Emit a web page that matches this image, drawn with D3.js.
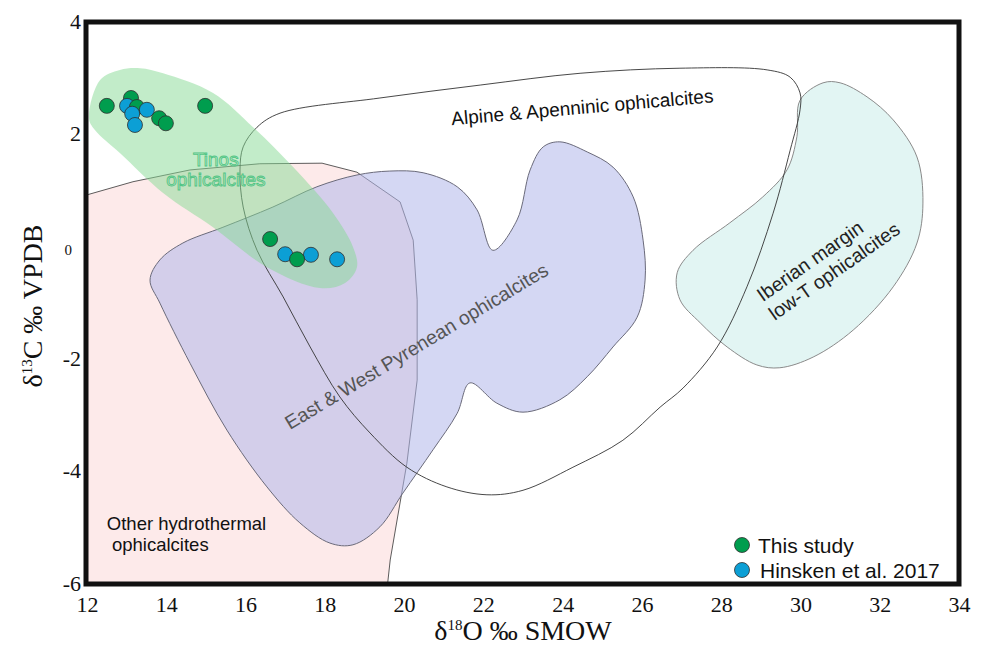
<!DOCTYPE html>
<html>
<head>
<meta charset="utf-8">
<script src="https://cdn.jsdelivr.net/npm/d3@7"></script>
<style>
  body { margin: 0; background: #fff; }
  .lbl { font-family: "Liberation Sans", Arial, sans-serif; }
</style>
</head>
<body>
<div id="chart"></div>
<script>
// points: [d18O ‰ SMOW, d13C ‰ VPDB]
const thisStudy = [[12.50, 2.49], [13.11, 2.63], [13.26, 2.47], [13.82, 2.27], [13.99, 2.18],
                   [14.98, 2.49], [16.62, 0.12], [17.30, -0.24]];
const hinsken2017 = [[13.01, 2.49], [13.14, 2.35], [13.21, 2.15], [13.51, 2.42],
                     [17.00, -0.15], [17.65, -0.16], [18.31, -0.24]];

// field outlines, same units
const tinosField = [[12.05, 2.27], [12.33, 2.95], [12.83, 3.13], [13.34, 3.16], [13.92, 3.07], [15.18, 2.72],
  [16.19, 2.11], [17.20, 1.40], [18.21, 0.58], [18.71, -0.02], [18.81, -0.38], [18.51, -0.66], [17.88, -0.75],
  [16.54, -0.38], [15.18, 0.33], [13.92, 0.94], [12.83, 1.65], [12.20, 2.06]];
const otherHydroField = [[11.82, 0.87], [13.16, 1.14], [14.60, 1.35], [16.36, 1.46], [17.93, 1.47], [18.81, 1.31],
  [19.90, 0.78], [20.23, 0.10], [20.33, -0.96], [20.33, -2.39], [20.07, -3.87], [19.65, -5.59], [19.54, -6.30],
  [11.82, -6.30]];
const pyreneanField = [[13.59, -0.61], [13.84, -0.25], [14.42, 0.05], [15.43, 0.33], [16.69, 0.69], [17.80, 1.05],
  [18.81, 1.26], [19.64, 1.33], [20.48, 1.30], [21.34, 1.05], [21.84, 0.64], [22.24, -0.08], [22.85, 0.46],
  [23.18, 1.35], [23.51, 1.76], [23.93, 1.85], [24.62, 1.67], [25.27, 1.40], [25.78, 0.87], [26.03, 0.10],
  [26.08, -0.61], [25.88, -1.27], [25.27, -1.80], [24.62, -2.33], [23.93, -2.74], [23.00, -2.96], [22.34, -2.80],
  [21.66, -2.44], [21.34, -2.98], [20.73, -3.63], [19.97, -4.40], [19.39, -5.00], [18.71, -5.32], [18.13, -5.29],
  [17.37, -4.93], [16.54, -4.29], [15.53, -3.28], [14.60, -2.09], [13.84, -1.02]];
const alpineField = [[19.39, 2.63], [16.87, 2.36], [16.29, 2.11], [15.94, 1.76], [15.86, 1.35], [15.94, 0.69],
  [16.29, -0.08], [16.95, -0.91], [17.63, -1.80], [18.38, -2.69], [19.14, -3.33], [20.07, -3.94], [21.08, -4.29],
  [22.09, -4.43], [23.00, -4.35], [24.26, -3.94], [25.52, -3.46], [26.46, -2.87], [27.04, -2.53], [27.90, -1.80],
  [28.65, -0.73], [29.31, 0.58], [29.74, 1.70], [29.99, 2.42], [29.99, 2.72], [29.74, 3.00], [29.16, 3.13],
  [26.96, 3.16], [24.44, 3.07], [21.92, 2.86]];
const iberianField = [[30.57, 2.90], [29.99, 2.59], [29.91, 1.94], [29.66, 1.35], [29.05, 0.87], [28.22, 0.41],
  [27.29, -0.08], [26.89, -0.48], [26.96, -0.96], [27.47, -1.37], [28.15, -1.80], [28.90, -2.12], [29.48, -2.17],
  [30.32, -1.98], [31.33, -1.50], [32.34, -0.73], [32.94, 0.05], [33.09, 0.76], [32.94, 1.58], [32.34, 2.24],
  [31.68, 2.65], [31.00, 2.90]];

const xTicks = [12, 14, 16, 18, 20, 22, 24, 26, 28, 30, 32, 34];
const yTicks = [-6, -4, -2, 0, 2, 4];

const width = 986, height = 648;
const serif = "'Liberation Serif', 'Times New Roman', serif";
const svg = d3.select("#chart").append("svg")
  .attr("width", width)
  .attr("height", height);

const x = d3.scaleLinear().domain([12, 34]).range([87, 959]);
const y = d3.scaleLinear().domain([-6, 4]).range([583, 21]);

svg.append("clipPath").attr("id", "plot")
  .append("rect")
  .attr("x", x(12)).attr("y", y(4))
  .attr("width", x(34) - x(12)).attr("height", y(-6) - y(4));

const plot = svg.append("g").attr("clip-path", "url(#plot)");

const smooth = d3.line().x(d => x(d[0])).y(d => y(d[1])).curve(d3.curveCatmullRomClosed.alpha(0.5));
const straight = d3.line().x(d => x(d[0])).y(d => y(d[1])).curve(d3.curveLinearClosed);

plot.append("path").attr("d", straight(otherHydroField))
  .attr("fill", "#fdeaea").attr("stroke", "#333").attr("stroke-width", 0.8);
plot.append("path").attr("d", smooth(iberianField))
  .attr("fill", "#e2f5f3").attr("stroke", "#8a8a8a").attr("stroke-width", 1);
plot.append("path").attr("d", smooth(pyreneanField))
  .attr("fill", "#b0b6ea").attr("fill-opacity", 0.55).attr("stroke", "#6a6a7a").attr("stroke-width", 1);
plot.append("path").attr("d", smooth(alpineField))
  .attr("fill", "none").attr("stroke", "#333").attr("stroke-width", 0.9);
plot.append("path").attr("d", smooth(tinosField))
  .attr("fill", "#86da93").attr("fill-opacity", 0.5).attr("stroke", "none");

// field labels
function fieldLabel(lines, pos, angle, size, color, anchor) {
  lines.forEach((t, i) => {
    svg.append("text").attr("class", "lbl")
      .attr("transform", `translate(${x(pos[i][0])},${y(pos[i][1])}) rotate(${angle})`)
      .attr("text-anchor", anchor || "middle")
      .style("font-size", size + "px")
      .attr("fill", color)
      .text(t);
  });
}
fieldLabel(["Alpine & Apenninic ophicalcites"], [[24.51, 2.35]], -5, 19, "#111");
fieldLabel(["East & West Pyrenean ophicalcites"], [[20.40, -1.89]], -31, 19.5, "#555");
fieldLabel(["Iberian margin", "low-T ophicalcites"], [[30.34, -0.37], [30.95, -0.55]], -35, 19.5, "#222");
fieldLabel(["Other hydrothermal", "ophicalcites"], [[12.50, -5.06], [12.63, -5.43]], 0, 18.5, "#111", "start");

svg.selectAll("text.tinos")
  .data(["Tinos", "ophicalcites"])
  .enter().append("text")
  .attr("class", "lbl tinos")
  .attr("x", x(15.25))
  .attr("y", (d, i) => y([1.42, 1.06][i]))
  .attr("text-anchor", "middle")
  .style("font-size", "19px")
  .attr("fill", "none")
  .attr("stroke", "#52c585")
  .attr("stroke-width", 0.9)
  .text(d => d);

// points, drawn top-down so lower ones overlap
const colors = { thisStudy: "#009d4e", hinsken: "#0c9fd5" };
const allPts = thisStudy.map(d => ({ v: d, s: "thisStudy" }))
  .concat(hinsken2017.map(d => ({ v: d, s: "hinsken" })))
  .sort((a, b) => b.v[1] - a.v[1]);

svg.append("g").selectAll("circle")
  .data(allPts)
  .enter().append("circle")
  .attr("cx", d => x(d.v[0]))
  .attr("cy", d => y(d.v[1]))
  .attr("r", 7.5)
  .attr("fill", d => colors[d.s])
  .attr("stroke", "#2e2e2e")
  .attr("stroke-width", 0.8);

// legend
const legend = svg.append("g").attr("transform", "translate(742,545)");
[["This study", colors.thisStudy], ["Hinsken et al. 2017", colors.hinsken]].forEach((d, i) => {
  legend.append("circle").attr("cx", 0).attr("cy", i * 25).attr("r", 7.5)
    .attr("fill", d[1]).attr("stroke", "#2e2e2e").attr("stroke-width", 0.8);
  legend.append("text").attr("class", "lbl")
    .attr("x", 16 + i * 2).attr("y", i * 25 + 7.5)
    .style("font-size", "21px").attr("fill", "#111")
    .text(d[0]);
});

// axes
const xAxis = svg.append("g")
  .attr("transform", `translate(0,${y(-6)})`)
  .call(d3.axisBottom(x).tickValues(xTicks).tickSize(0).tickPadding(13).tickFormat(d => String(d)));
xAxis.select(".domain").remove();

const yAxis = svg.append("g")
  .attr("transform", `translate(${x(12)},0)`)
  .call(d3.axisLeft(y).tickValues(yTicks).tickSize(0).tickPadding(6).tickFormat(d => String(d)));
yAxis.select(".domain").remove();

svg.selectAll(".tick text")
  .style("font-family", serif)
  .style("font-size", "22px")
  .attr("fill", "#111");
// the 0 label is set smaller in the original figure
yAxis.selectAll(".tick text")
  .filter(d => d === 0)
  .style("font-size", "15px")
  .attr("x", -15)
  .attr("dy", "0.6em");

// frame
svg.append("rect")
  .attr("x", x(12) - 1).attr("y", y(4) + 1)
  .attr("width", x(34) - x(12) + 1).attr("height", y(-6) - y(4))
  .attr("fill", "none").attr("stroke", "#111").attr("stroke-width", 5);

// axis titles
const yTitle = svg.append("text")
  .attr("transform", `translate(42,${(y(4) + y(-6)) / 2 + 4}) rotate(-90)`)
  .attr("text-anchor", "middle")
  .style("font-family", serif)
  .style("font-size", "28px")
  .attr("fill", "#111");
yTitle.append("tspan").text("δ");
yTitle.append("tspan").attr("dy", -10).style("font-size", "15px").text("13");
yTitle.append("tspan").attr("dy", 10).text("C ‰ VPDB");

const xTitle = svg.append("text")
  .attr("x", 523).attr("y", 640)
  .attr("text-anchor", "middle")
  .style("font-family", serif)
  .style("font-size", "28px")
  .attr("fill", "#111");
xTitle.append("tspan").text("δ");
xTitle.append("tspan").attr("dy", -10).style("font-size", "15px").text("18");
xTitle.append("tspan").attr("dy", 10).text("O ‰ SMOW");
</script>
</body>
</html>
